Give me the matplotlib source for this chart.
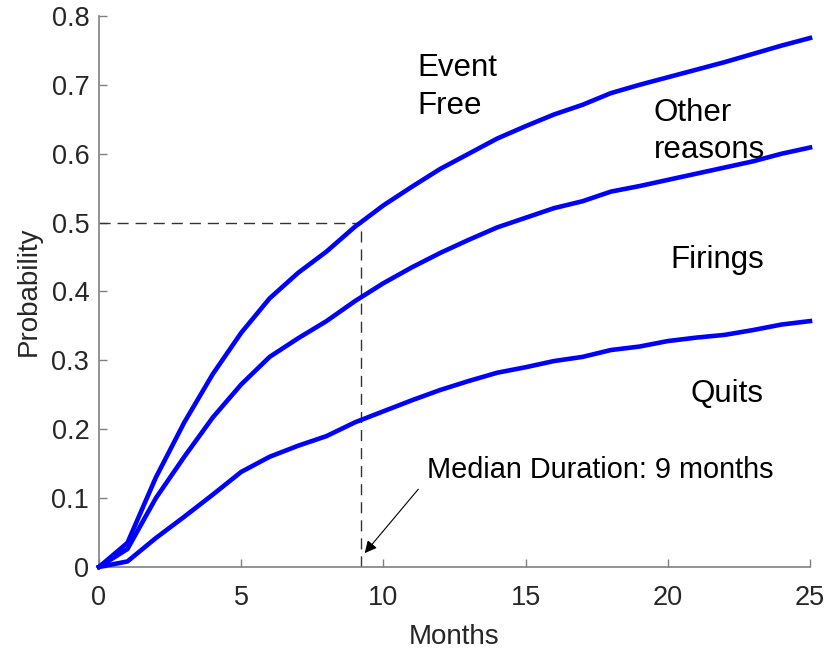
import matplotlib
matplotlib.use("Agg")
import matplotlib.pyplot as plt
from matplotlib.ticker import FuncFormatter

plt.rcParams['font.family'] = ['Liberation Sans', 'DejaVu Sans']

months = list(range(0, 26))
top_curve = [0, 0.035, 0.13, 0.21, 0.28, 0.34, 0.39, 0.427, 0.458, 0.494, 0.525, 0.552,
             0.578, 0.600, 0.622, 0.640, 0.657, 0.671, 0.688, 0.700, 0.711, 0.722,
             0.733, 0.745, 0.757, 0.768]
mid_curve = [0, 0.026, 0.10, 0.16, 0.217, 0.265, 0.305, 0.332, 0.357, 0.386, 0.412, 0.435,
             0.456, 0.475, 0.493, 0.507, 0.521, 0.531, 0.545, 0.553, 0.562, 0.571,
             0.580, 0.589, 0.600, 0.609]
low_curve = [0, 0.008, 0.042, 0.073, 0.105, 0.138, 0.160, 0.176, 0.190, 0.210, 0.226, 0.242,
             0.257, 0.270, 0.282, 0.290, 0.299, 0.305, 0.315, 0.320, 0.328, 0.333,
             0.337, 0.344, 0.352, 0.357]
median_month = 9.2
median_prob = 0.5
x_ticks = [0, 5, 10, 15, 20, 25]
y_ticks = [0, 0.1, 0.2, 0.3, 0.4, 0.5, 0.6, 0.7, 0.8]

fig = plt.figure(figsize=(8.29, 6.55), dpi=100)
ax = fig.add_axes([0.1194, 0.1344, 0.8577, 0.8412])

for c in (top_curve, mid_curve, low_curve):
    ax.plot(months, c, color=(0, 0, 1), lw=3.3, solid_joinstyle='round', clip_on=False, zorder=3)

ax.plot([0, median_month], [median_prob, median_prob], color='#333333', lw=1, ls=(0, (8, 5)))
ax.plot([median_month, median_month], [0, median_prob], color='#333333', lw=1, ls=(0, (8, 5)))

ax.set_xlim(0, 25)
ax.set_ylim(0, 0.8)
ax.set_xticks(x_ticks)
ax.set_yticks(y_ticks)
ax.yaxis.set_major_formatter(FuncFormatter(lambda v, p: f"{v:g}"))
ax.xaxis.set_major_formatter(FuncFormatter(lambda v, p: f"{v:g}"))

for s in ('top', 'right'):
    ax.spines[s].set_visible(False)
for s in ('left', 'bottom'):
    ax.spines[s].set_color('#808080')
    ax.spines[s].set_linewidth(1.2)
ax.tick_params(direction='in', length=6, width=1, color='#808080', labelcolor='#262626',
               labelsize=19.5)
ax.tick_params(axis='x', pad=13)
ax.tick_params(axis='y', pad=7)

ax.set_xlabel('Months', fontsize=20, color='#262626', labelpad=9)
ax.set_ylabel('Probability', fontsize=20, color='#262626', labelpad=7)

lab = dict(fontsize=22.5, va='center', ha='left', linespacing=1.32, color='black')
ax.text(11.2, 0.697, 'Event\nFree', **lab)
ax.text(19.5, 0.632, 'Other\nreasons', **lab)
ax.text(20.1, 0.446, 'Firings', **lab)
ax.text(20.8, 0.251, 'Quits', **lab)

ax.annotate('', xy=(9.28, 0.017), xytext=(11.29, 0.116),
            arrowprops=dict(arrowstyle='-|>', color='black', lw=0.8, mutation_scale=18))
ax.text(11.55, 0.141, 'Median Duration: 9 months', fontsize=20.8, va='center', ha='left')

fig.savefig('out.png', dpi=100)
